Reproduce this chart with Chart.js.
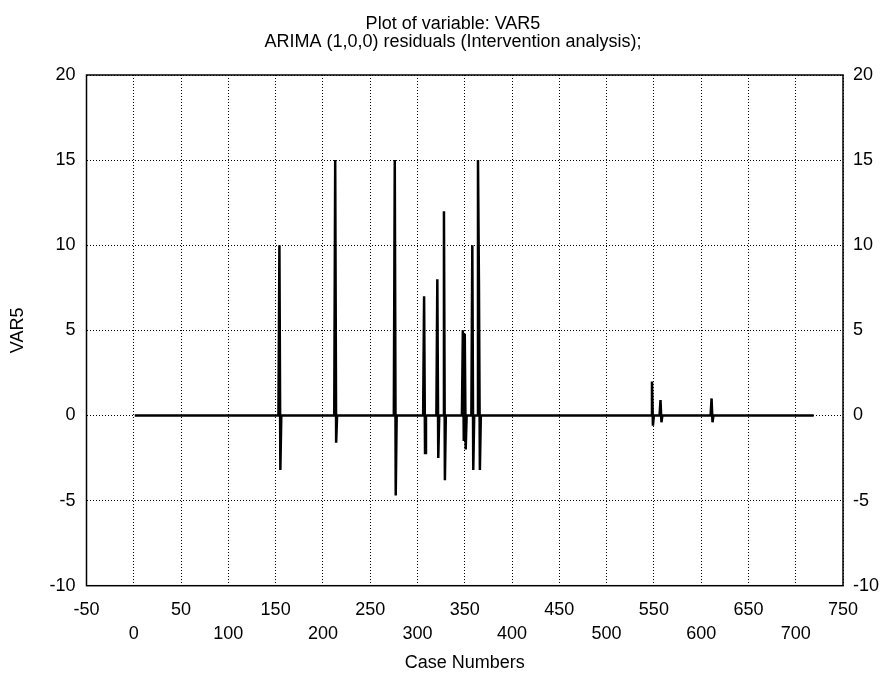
<!DOCTYPE html>
<html>
<head>
<meta charset="utf-8">
<title>Plot of variable: VAR5</title>
<script src="https://cdn.jsdelivr.net/npm/chart.js@4.4.1/dist/chart.umd.min.js"></script>
<style>
  html, body { margin: 0; padding: 0; background: #fff; }
  #wrap { width: 884px; height: 681px; }
</style>
</head>
<body>
<div id="wrap"><canvas id="chart" width="884" height="681"></canvas></div>
<script>
// ARIMA (1,0,0) residuals of VAR5, by case number (zero except around the interventions)
const caseNumbers = [
  1,
  153, 154, 155, 156,
  212, 213, 214, 215,
  275, 276, 277, 278,
  306, 307, 308, 309,
  320, 321, 322, 323,
  327, 328, 329, 330,
  347, 348, 349, 350, 351, 352,
  357, 358, 359, 360,
  363, 364, 365, 366, 367,
  547, 548, 549, 550,
  556, 557, 558, 559,
  610, 611, 612, 613,
  719
];
const residuals = [
  0,
  0, 10, -3.2, 0,
  0, 15, -1.6, 0,
  0, 15, -4.7, 0,
  0, 7, -2.2, 0,
  0, 8, -2.5, 0,
  0, 12, -3.8, 0,
  0, 5, -1.5, 4.8, -2.0, 0,
  0, 10, -3.2, 0,
  0, 15, 7.8, -3.2, 0,
  0, 2.0, -0.6, 0,
  0, 0.9, -0.4, 0,
  0, 1.0, -0.4, 0,
  0
];

// Case-number labels alternate between two rows under the axis
const xTickRowOne = ['-50', '50', '150', '250', '350', '450', '550', '650', '750'];
const xTickRowTwo = ['0', '100', '200', '300', '400', '500', '600', '700'];

const titleLines = ['Plot of variable: VAR5', 'ARIMA (1,0,0) residuals (Intervention analysis);'];
const xAxisTitle = 'Case Numbers';
const yAxisTitle = 'VAR5';

const FONT_FAMILY = '"Liberation Sans", Arial, Helvetica, sans-serif';
const tickFont = { family: FONT_FAMILY, size: 18, lineHeight: 24 / 18 };
const axisTitleFont = { family: FONT_FAMILY, size: 18 };
const gridDots = [1, 2];

const points = caseNumbers.map((c, i) => ({ x: c, y: residuals[i] }));

// Frame around the plot area plus the two heading lines
const frameAndHeading = {
  id: 'frameAndHeading',
  afterDraw(chart) {
    const { ctx, chartArea: a } = chart;
    ctx.save();
    ctx.strokeStyle = '#000';
    ctx.lineWidth = 1.5;
    ctx.setLineDash([]);
    ctx.strokeRect(a.left, a.top, a.right - a.left, a.bottom - a.top);
    ctx.fillStyle = '#000';
    ctx.font = '18px ' + FONT_FAMILY;
    ctx.textAlign = 'center';
    ctx.textBaseline = 'alphabetic';
    ctx.fillText(titleLines[0], 453, 29);
    ctx.fillText(titleLines[1], 453, 47);
    ctx.restore();
  }
};

new Chart(document.getElementById('chart'), {
  type: 'line',
  data: {
    datasets: [{
      data: points,
      borderColor: '#000',
      borderWidth: 2.5,
      pointRadius: 0,
      tension: 0,
      fill: false
    }]
  },
  options: {
    responsive: false,
    animation: false,
    devicePixelRatio: 1,
    layout: { padding: { top: 75, left: 0, right: 0, bottom: 0 } },
    plugins: {
      legend: { display: false },
      tooltip: { enabled: false },
      title: { display: false }
    },
    scales: {
      x: {
        type: 'linear',
        position: 'bottom',
        min: -50,
        max: 750,
        afterFit(s) { s.height = 95.3; },
        grid: { color: '#000', lineWidth: 1, drawTicks: false },
        border: { display: false, dash: gridDots },
        ticks: {
          stepSize: 50,
          autoSkip: false,
          maxRotation: 0,
          minRotation: 0,
          padding: 12,
          color: '#000',
          font: tickFont,
          callback(v) {
            const s = String(v);
            if (xTickRowOne.includes(s)) return [s, ''];
            if (xTickRowTwo.includes(s)) return ['', s];
            return '';
          }
        },
        title: {
          display: true,
          text: xAxisTitle,
          color: '#000',
          font: axisTitleFont,
          padding: { top: 0, bottom: 7 }
        }
      },
      y: {
        position: 'left',
        min: -10,
        max: 20,
        afterFit(s) { s.width = 86.5; },
        grid: { color: '#000', lineWidth: 1, drawTicks: false },
        border: { display: false, dash: gridDots },
        ticks: { stepSize: 5, padding: 11, color: '#000', font: tickFont },
        title: {
          display: true,
          text: yAxisTitle,
          color: '#000',
          font: axisTitleFont,
          padding: { top: 7, bottom: 0 }
        }
      },
      y2: {
        position: 'right',
        min: -10,
        max: 20,
        afterFit(s) { s.width = 41; },
        grid: { drawOnChartArea: false, drawTicks: false },
        border: { display: false },
        ticks: { stepSize: 5, padding: 10, color: '#000', font: tickFont }
      }
    }
  },
  plugins: [frameAndHeading]
});
</script>
</body>
</html>
